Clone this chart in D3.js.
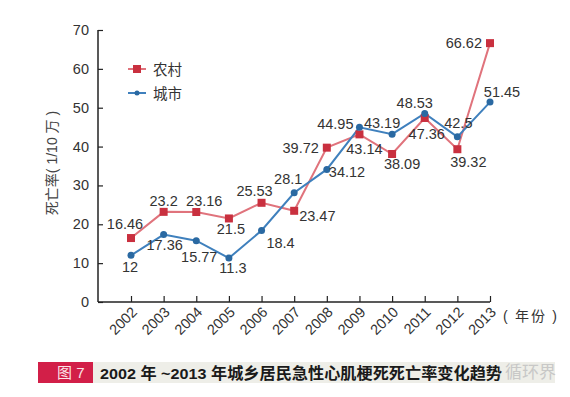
<!DOCTYPE html>
<html><head><meta charset="utf-8">
<script src="https://cdn.jsdelivr.net/npm/d3@7"></script>
<style>
html,body{margin:0;padding:0;background:#fff;}
svg{display:block;font-family:"Liberation Sans",Arial,"Noto Sans CJK SC",sans-serif;}
</style></head><body>
<svg id="c" width="570" height="397"></svg>
<script>
const years = ["2002","2003","2004","2005","2006","2007","2008","2009","2010","2011","2012","2013"];
const rural = [16.46,23.2,23.16,21.5,25.53,23.47,39.72,43.14,38.09,47.36,39.32,66.62];
const urban = [12,17.36,15.77,11.3,18.4,28.1,34.12,44.95,43.19,48.53,42.5,51.45];
const yTicks = [0,10,20,30,40,50,60,70];
const seriesNames = ["农村","城市"];
const yTitle = "死亡率( 1/10 万 )";
const xUnit = "( 年份 )";
const figTag = "图 7";
const caption = "2002 年 ~2013 年城乡居民急性心肌梗死死亡率变化趋势";

// label placement [anchor, dx, dy]
const ruralLab = [["middle",-6,-9],["middle",0,-6],["middle",8,-6],["middle",2,16],["middle",-7,-7],["start",5,10],["end",-8,5],["middle",5,20],["middle",10,15],["middle",2,21],["middle",11,18],["end",-8,5]];
const urbanLab = [["middle",-1,17],["middle",1,15],["middle",3,21],["middle",4,15],["middle",19,17],["middle",-6,-9],["start",2,8],["end",-6,2],["middle",-10,-6],["middle",-10,-5],["middle",1,-9],["middle",12,-5]];

const svg = d3.select("#c");
const x = d3.scalePoint().domain(years).range([131,490]);
const y = d3.scaleLinear().domain([0,70]).range([302,30]);
const txt = "#333";

// axes
const yAxis = svg.append("g").attr("transform","translate(98,0)")
  .call(d3.axisRight(y).tickValues(yTicks).tickSize(5).tickFormat(""));
yAxis.select(".domain").attr("d","M0,"+y(70)+"V"+y(0)).attr("stroke","#222").attr("stroke-width",1.5);
yAxis.selectAll(".tick line").attr("stroke","#222").attr("stroke-width",1.2);
svg.append("g").selectAll("text").data(yTicks).join("text")
  .attr("x",89).attr("y",d=>y(d)+5).attr("text-anchor","end")
  .attr("font-size",14.5).attr("fill",txt).text(d=>d);

const xAxis = svg.append("g").attr("transform","translate(0,302)")
  .call(d3.axisTop(x).tickSize(6).tickFormat(""));
xAxis.select(".domain").attr("d","M98,0H490").attr("stroke","#222").attr("stroke-width",1.5);
xAxis.selectAll(".tick line").attr("stroke","#222").attr("stroke-width",1.2);
svg.append("g").selectAll("text").data(years).join("text")
  .attr("transform",d=>`translate(${x(d)+7},${313}) rotate(-45)`)
  .attr("text-anchor","end").attr("font-size",14.5).attr("fill",txt).text(d=>d);
svg.append("text").attr("x",503).attr("y",321).attr("font-size",14).attr("fill",txt)
  .attr("xml:space","preserve").attr("textLength",54).attr("lengthAdjust","spacing").text(xUnit);

svg.append("text").attr("transform","translate(57,163) rotate(-90)")
  .attr("text-anchor","middle").attr("font-size",14).attr("fill","#444").text(yTitle);

// lines
const redLine = "#e0737c", redMark = "#c9303f", blueLine = "#3f80bd", blueMark = "#2a69a2";
const line = d3.line().x((d,i)=>x(years[i])).y(d=>y(d));
svg.append("path").datum(rural).attr("d",line).attr("fill","none").attr("stroke",redLine).attr("stroke-width",2);
svg.append("path").datum(urban).attr("d",line).attr("fill","none").attr("stroke",blueLine).attr("stroke-width",2);
svg.append("g").selectAll("rect").data(rural).join("rect")
  .attr("x",(d,i)=>x(years[i])-4).attr("y",d=>y(d)-4).attr("width",8).attr("height",8).attr("fill",redMark);
svg.append("g").selectAll("circle").data(urban).join("circle")
  .attr("cx",(d,i)=>x(years[i])).attr("cy",d=>y(d)).attr("r",3.5).attr("fill",blueMark);

// value labels
function labels(data, lab){
  svg.append("g").selectAll("text").data(data).join("text")
    .attr("x",(d,i)=>x(years[i])+lab[i][1]).attr("y",(d,i)=>y(d)+lab[i][2])
    .attr("text-anchor",(d,i)=>lab[i][0]).attr("font-size",14.5).attr("fill",txt).text(d=>d);
}
labels(rural, ruralLab);
labels(urban, urbanLab);

// legend
const lg = svg.append("g");
lg.append("line").attr("x1",128).attr("x2",146).attr("y1",69).attr("y2",69).attr("stroke",redLine).attr("stroke-width",2);
lg.append("rect").attr("x",133).attr("y",65).attr("width",8).attr("height",8).attr("fill",redMark);
lg.append("text").attr("x",153).attr("y",74.5).attr("font-size",14.5).attr("fill",txt).text(seriesNames[0]);
lg.append("line").attr("x1",128).attr("x2",146).attr("y1",93).attr("y2",93).attr("stroke",blueLine).attr("stroke-width",2);
lg.append("circle").attr("cx",137).attr("cy",93).attr("r",2.5).attr("fill",blueMark);
lg.append("text").attr("x",153).attr("y",98.5).attr("font-size",14.5).attr("fill",txt).text(seriesNames[1]);

// caption bar
svg.append("rect").attr("x",93).attr("y",362).attr("width",462).attr("height",21).attr("fill","#eeeee8");
svg.append("rect").attr("x",38).attr("y",362).attr("width",55).attr("height",21).attr("fill","#d21f48");
svg.append("text").attr("x",57).attr("y",378).attr("font-size",15).attr("fill","#fbe3e8").attr("xml:space","preserve").text(figTag);
svg.append("text").attr("x",100).attr("y",378.5).attr("font-size",15.5).attr("font-weight","bold").attr("fill","#1a1a1a")
  .attr("textLength",402).attr("lengthAdjust","spacingAndGlyphs").text(caption);
svg.append("text").attr("x",505).attr("y",378).attr("font-size",17).attr("fill","#c4c4c4").attr("opacity",0.9).text("循环界");
</script>
</body></html>
